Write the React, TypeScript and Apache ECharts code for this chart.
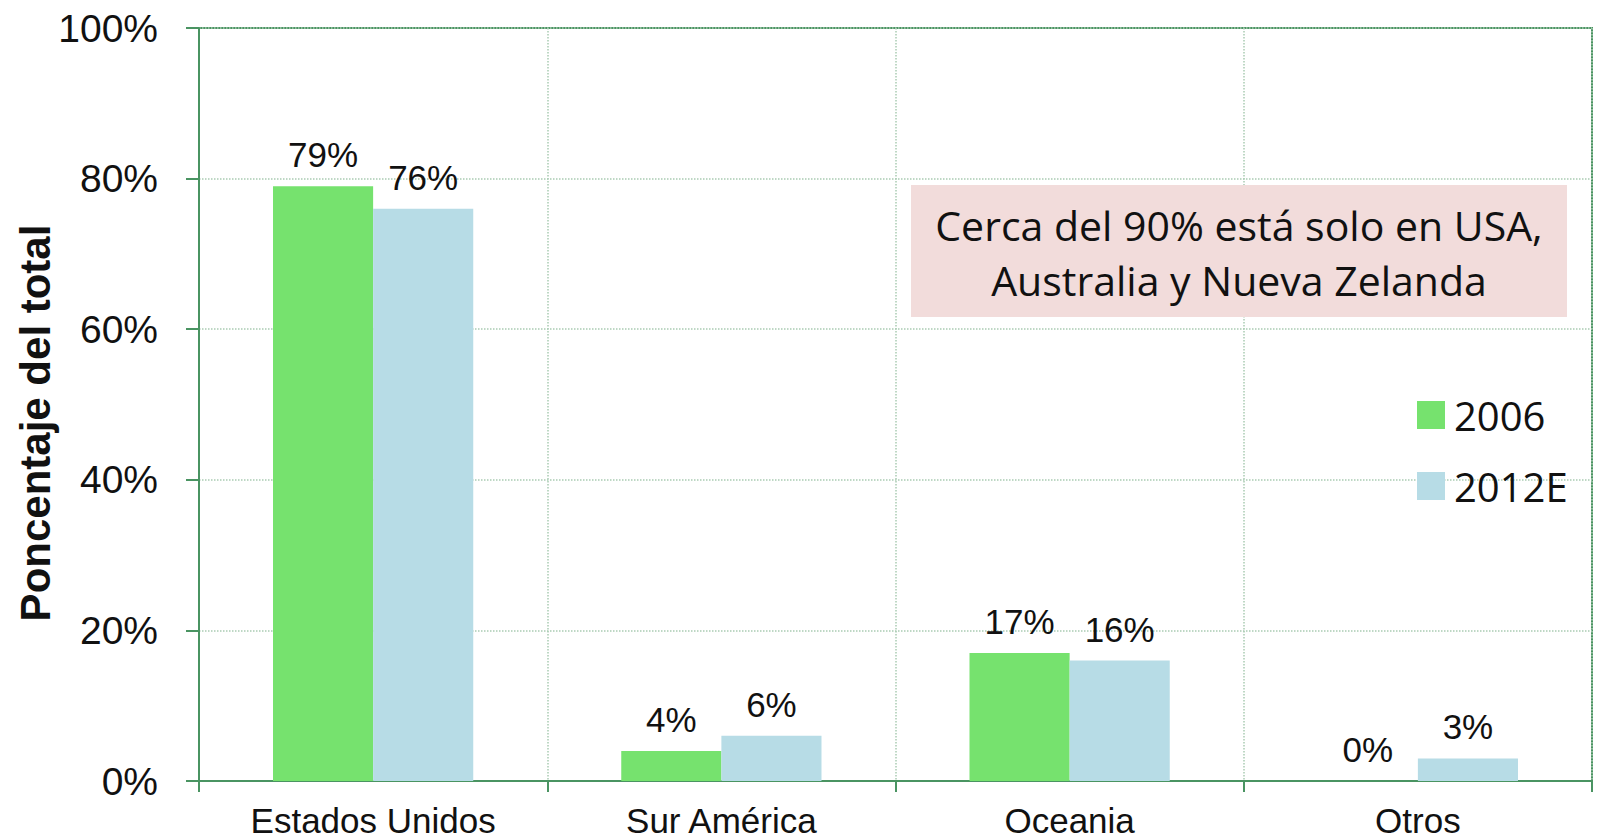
import React, { useEffect, useRef } from "react";
import * as echarts from "echarts";

const categories = ["Estados Unidos", "Sur América", "Oceania", "Otros"];
const series2006 = [79, 4, 17, 0];
const series2012E = [76, 6, 16, 3];
const seriesNames = ["2006", "2012E"];
const yTicks = { min: 0, max: 100, interval: 20 };
const yAxisTitle = "Poncentaje del total";
const noteLines = ["Cerca del 90% está solo en USA,", "Australia y Nueva Zelanda"];

const AXIS_GREEN = "#4a9462";
const GRID_GREEN = "#a9cbb2";
const ARIAL = "'Liberation Sans', Arial, sans-serif";
const CALIBRI = "'Open Sans', 'Noto Sans', sans-serif";

export default function App() {
  const ref = useRef<HTMLDivElement>(null);
  useEffect(() => {
    if (!ref.current) return;
    const chart = echarts.init(ref.current, undefined, { renderer: "svg" });
    const labelStyle = {
      show: true,
      position: "top",
      distance: 14,
      formatter: "{c}%",
      fontFamily: ARIAL,
      fontSize: 35,
      color: "#111",
    };
    chart.setOption({
      animation: false,
      backgroundColor: "#fff",
      grid: {
        left: 199,
        top: 28,
        right: 5,
        bottom: 59,
        show: true,
        borderColor: AXIS_GREEN,
        borderWidth: 2,
      },
      legend: {
        orient: "vertical",
        left: 1412,
        top: 390,
        itemWidth: 28,
        itemHeight: 28,
        itemGap: 31,
        icon: "rect",
        data: seriesNames,
        textStyle: {
          fontFamily: CALIBRI,
          fontSize: 40,
          lineHeight: 40,
          color: "#111",
          padding: [0, 0, 0, 4],
        },
      },
      xAxis: {
        type: "category",
        data: categories,
        axisLine: { show: true, lineStyle: { color: AXIS_GREEN, width: 2 } },
        axisTick: { show: true, length: 11, interval: 0, lineStyle: { color: AXIS_GREEN, width: 2 } },
        splitLine: { show: true, interval: 0, lineStyle: { color: GRID_GREEN, type: "dotted", width: 1.5 } },
        axisLabel: {
          fontFamily: ARIAL,
          fontSize: 35,
          lineHeight: 36,
          color: "#111",
          margin: 21,
          interval: 0,
        },
      },
      yAxis: {
        type: "value",
        min: yTicks.min,
        max: yTicks.max,
        interval: yTicks.interval,
        axisLine: { show: true, lineStyle: { color: AXIS_GREEN, width: 2 } },
        axisTick: { show: true, length: 13, lineStyle: { color: AXIS_GREEN, width: 2 } },
        splitLine: { show: true, lineStyle: { color: GRID_GREEN, type: "dotted", width: 1.5 } },
        axisLabel: {
          formatter: "{value}%",
          fontFamily: ARIAL,
          fontSize: 39,
          color: "#111",
          margin: 41,
        },
      },
      series: [
        {
          name: seriesNames[0],
          type: "bar",
          data: series2006,
          barGap: "0%",
          barCategoryGap: "42.5%",
          itemStyle: { color: "#76e26e" },
          label: labelStyle,
        },
        {
          name: seriesNames[1],
          type: "bar",
          data: series2012E,
          barGap: "0%",
          barCategoryGap: "42.5%",
          itemStyle: { color: "#b7dce6" },
          label: labelStyle,
        },
      ],
      graphic: [
        {
          type: "rect",
          shape: { x: 911, y: 185, width: 656, height: 132 },
          style: { fill: "#f2dcdb" },
          z: 10,
        },
        {
          type: "text",
          x: 1239,
          y: 252,
          z: 11,
          style: {
            text: noteLines.join("\n"),
            fontFamily: CALIBRI,
            fontSize: 41,
            lineHeight: 55,
            fill: "#111",
            align: "center",
            verticalAlign: "middle",
          },
        },
        {
          type: "text",
          x: 35,
          y: 423,
          rotation: Math.PI / 2,
          z: 11,
          style: {
            text: yAxisTitle,
            fontFamily: ARIAL,
            fontWeight: "bold",
            fontSize: 42,
            fill: "#111",
            align: "center",
            verticalAlign: "middle",
          },
        },
      ],
    });
    return () => chart.dispose();
  }, []);
  return <div ref={ref} style={{ width: 1597, height: 840, position: "absolute", left: 0, top: 0 }} />;
}
